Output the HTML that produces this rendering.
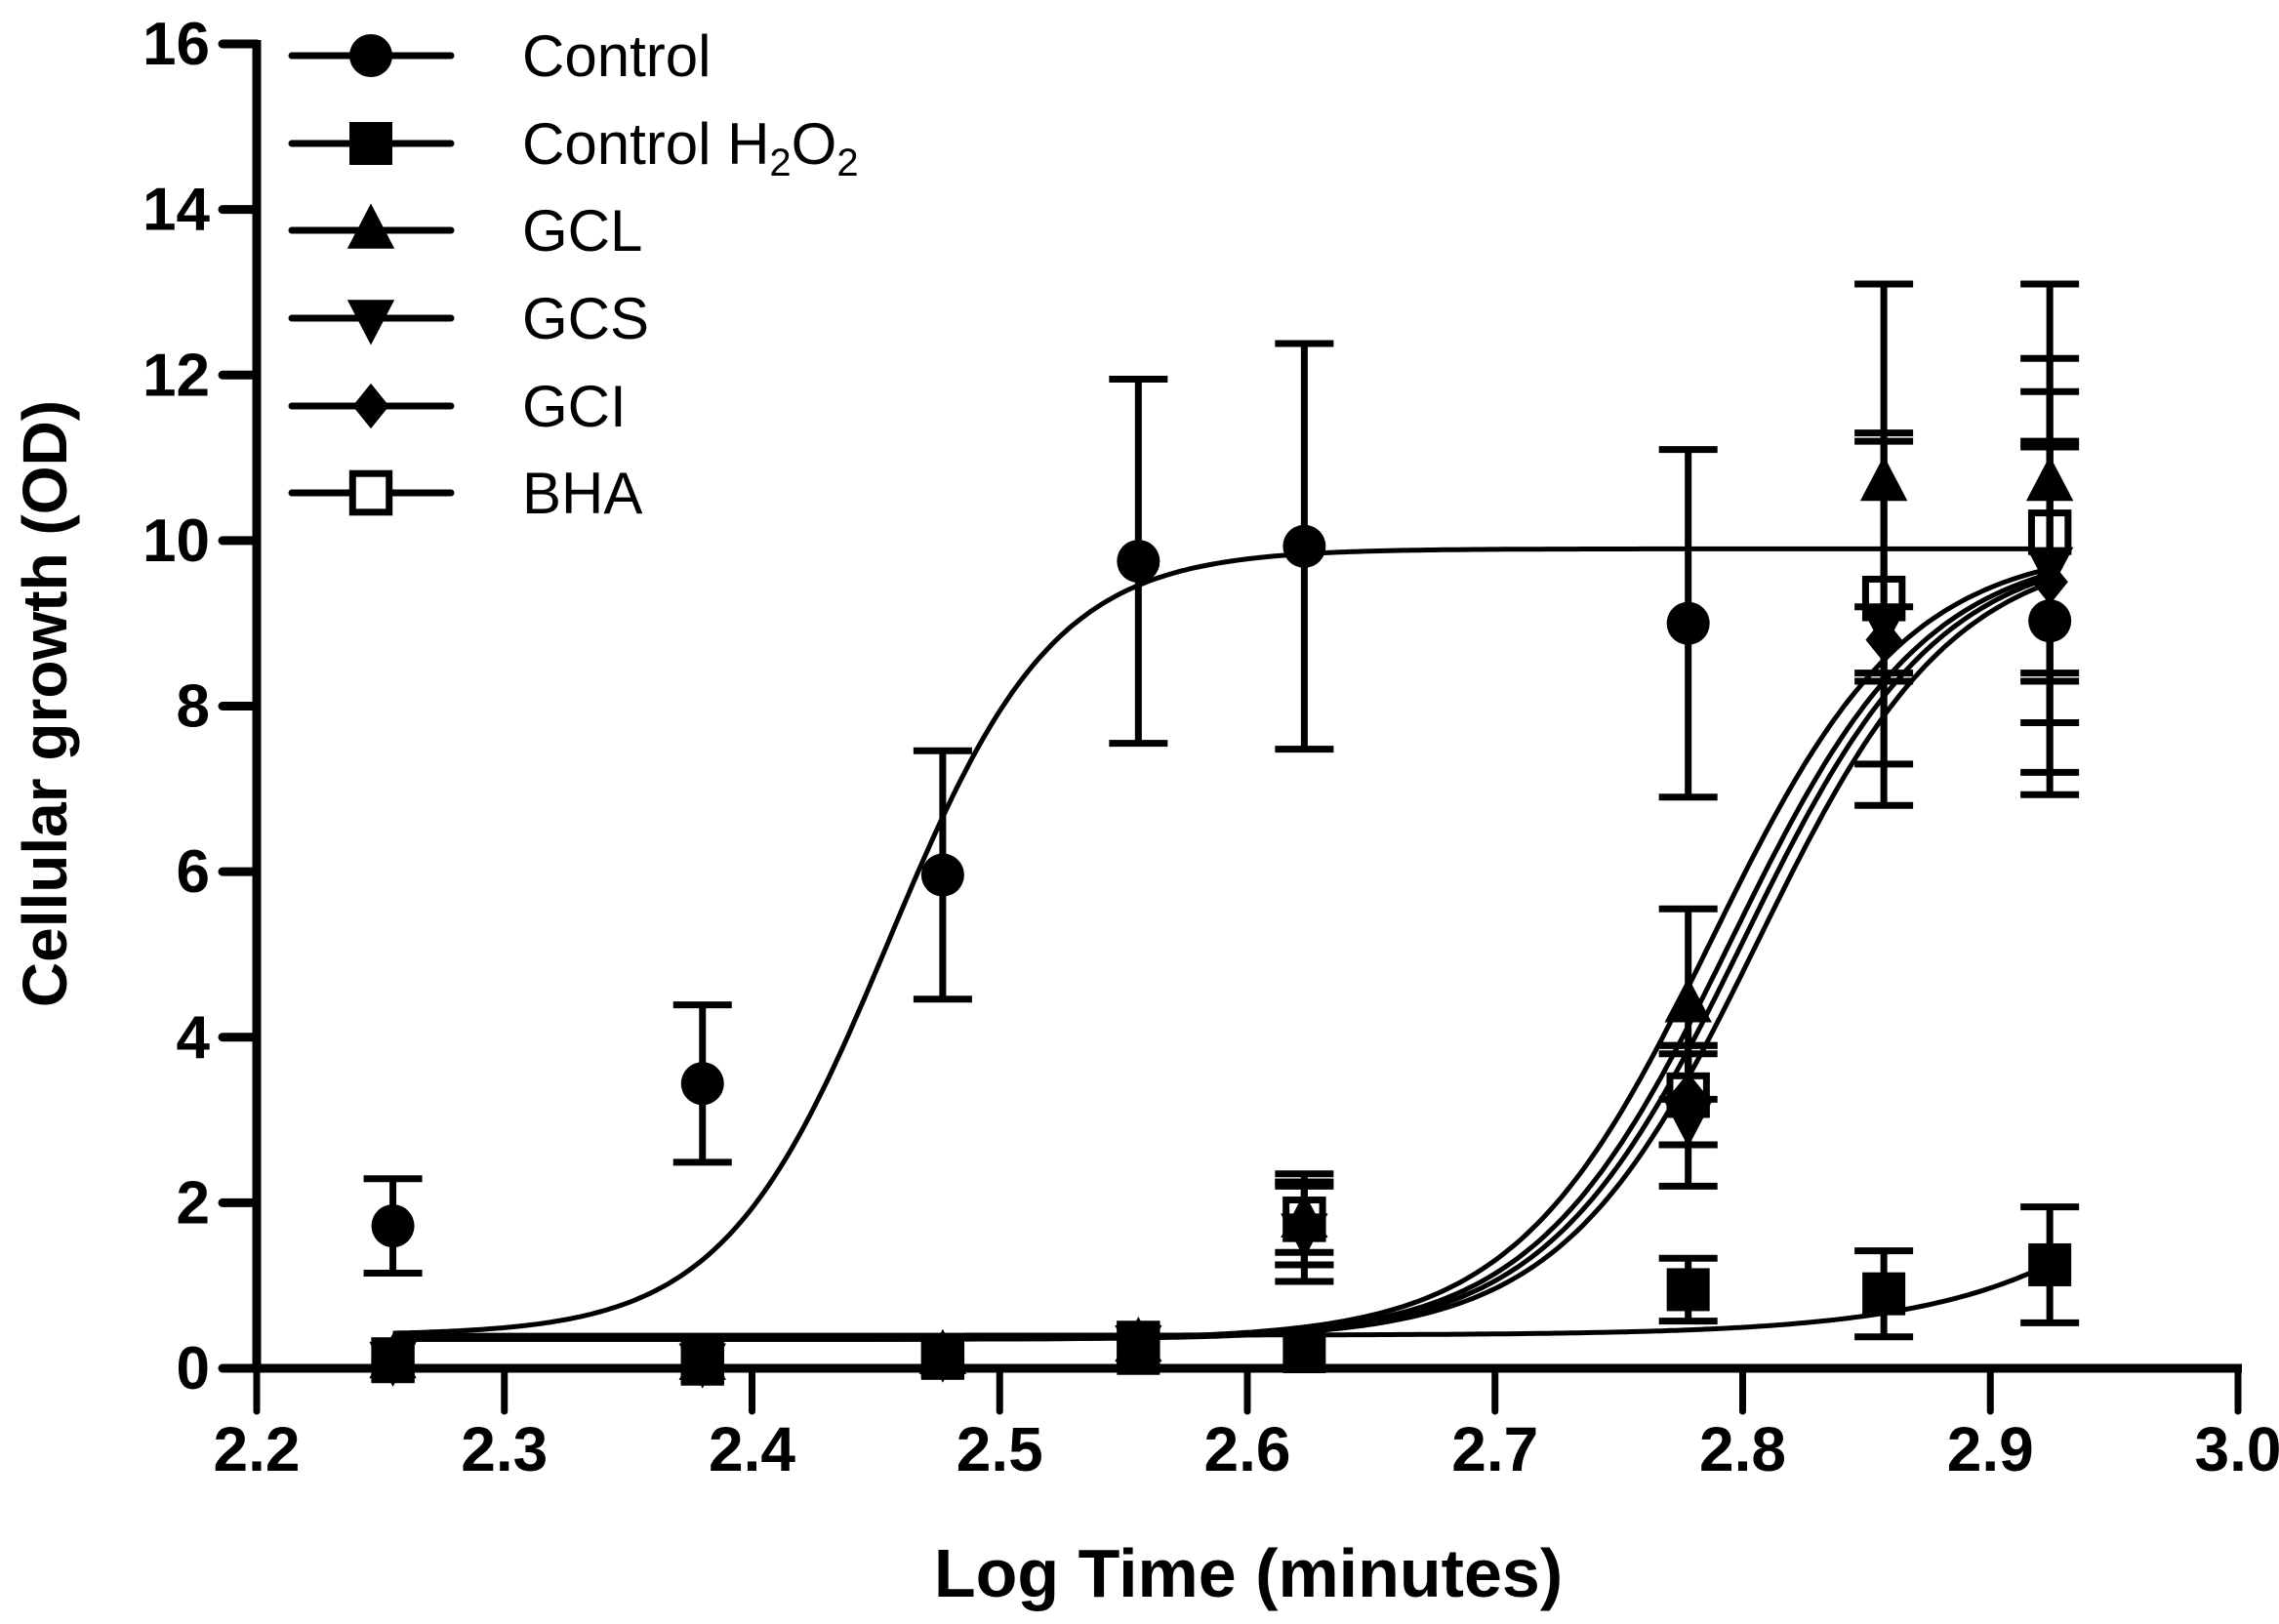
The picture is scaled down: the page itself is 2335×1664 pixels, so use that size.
<!DOCTYPE html>
<html><head><meta charset="utf-8"><style>
html,body{margin:0;padding:0;background:#fff}
svg{display:block}
text{font-family:"Liberation Sans",Arial,sans-serif;fill:#000}
.nar{font-family:"Liberation Sans Narrow","Liberation Sans",Arial,sans-serif}
</style></head><body>
<svg id="chart" width="2335" height="1664" viewBox="0 0 2335 1664" xmlns="http://www.w3.org/2000/svg">
<g id="axes"></g>
<g id="fits"></g>
<g id="marks"></g>
<g id="legend"></g>
<text class="nar" x="1279" y="1636" font-size="70" font-weight="bold" text-anchor="middle">Log Time (minutes)</text>
<text transform="translate(68,721) rotate(-90)" font-size="64" font-weight="bold" text-anchor="middle">Cellular growth (OD)</text>
</svg>
<script>
const xTicks=[2.2,2.3,2.4,2.5,2.6,2.7,2.8,2.9,3.0];
const xTickLabels=["2.2","2.3","2.4","2.5","2.6","2.7","2.8","2.9","3.0"];
const yTicks=[0,2,4,6,8,10,12,14,16];
const yTickLabels=["0","2","4","6","8","10","12","14","16"];
const xVals=[2.255,2.380,2.477,2.556,2.623,2.778,2.857,2.924];
const seriesNames=["Control","Control H2O2","GCL","GCS","GCI","BHA"];
const controlY=[1.72,3.44,5.96,9.75,9.93,9.0,null,9.03];
const controlErr=[0.57,0.95,1.5,2.2,2.45,2.1,null,2.1];
const h2o2Y=[0.08,0.05,0.12,0.18,0.2,0.95,0.9,1.25];
const h2o2Err=[0,0,0,0,0,0.38,0.52,0.7];
const gclY=[0.1,0.08,0.15,0.3,1.8,4.4,10.7,10.7];
const gclErr=[0,0,0,0,0.55,1.15,2.4,2.4];
const gcsY=[0.1,0.08,0.15,0.3,1.65,3.0,9.0,9.7];
const gcsErr=[0,0,0,0,0.6,0.8,2.2,2.5];
const gciY=[0.1,0.08,0.15,0.3,1.75,3.3,8.8,9.5];
const gciErr=[0,0,0,0,0.5,0.6,0.4,1.7];
const bhaY=[0.1,0.08,0.15,0.3,1.8,3.3,9.3,10.1];
const bhaErr=[0,0,0,0,0.4,0.6,2.0,1.7];
// fit params: bottom, top, logEC50, hill
const controlFit=[0.4,9.9,2.455,13];
const h2o2Fit=[0.4,10,3.05,8];
const gclFit=[0.35,9.95,2.787,11];
const gcsFit=[0.35,9.95,2.800,11];
const gciFit=[0.35,9.95,2.806,11];
const bhaFit=[0.35,9.95,2.795,11];

const X0=263,X1=2293,Y0=1402,Y1=45;
const sx=v=>X0+(v-2.2)/(0.8)*(X1-X0);
const sy=v=>Y0-(v/16)*(Y0-Y1);
const NS="http://www.w3.org/2000/svg";
function mk(tag,parent,attrs){const e=document.createElementNS(NS,tag);for(const k in attrs)e.setAttribute(k,attrs[k]);parent.appendChild(e);return e;}
const axes=document.getElementById('axes');
let e=mk('line',axes,{x1:X0,y1:Y1-4,x2:X0,y2:Y0+4,stroke:'#000','stroke-width':9});


e=mk('line',axes,{x1:X0-35,y1:Y0,x2:X1+4,y2:Y0,stroke:'#000','stroke-width':9});


xTicks.forEach((t,i)=>{
  const l=mk('line',axes,{x1:sx(t),y1:Y0,x2:sx(t),y2:Y0+44,stroke:'#000','stroke-width':7,'stroke-linecap':'round'});
  
  
  const tx=mk('text',axes,{x:sx(t),y:Y0+105,'font-size':64,'font-weight':'bold','text-anchor':'middle','class':'nar'});
  tx.textContent=xTickLabels[i];
  
  
});
yTicks.forEach((t,i)=>{
  const l=mk('line',axes,{x1:X0-35,y1:sy(t),x2:X0,y2:sy(t),stroke:'#000','stroke-width':9,'stroke-linecap':'round'});
  
  
  const tx=mk('text',axes,{x:X0-48,y:sy(t)+21,'font-size':62,'font-weight':'bold','text-anchor':'end'});
  tx.textContent=yTickLabels[i];
  
  
});
function logistic(p,x){return p[0]+(p[1]-p[0])/(1+Math.pow(10,(p[2]-x)*p[3]));}
const fits=document.getElementById('fits');
const fitList=[controlFit,h2o2Fit,gclFit,gcsFit,gciFit,bhaFit];
fitList.forEach((p,i)=>{
  let d='';
  for(let x=2.255;x<=2.9241;x+=0.002){d+=(d?'L':'M')+sx(x).toFixed(1)+','+sy(logistic(p,x)).toFixed(1);}
  const path=mk('path',fits,{d:d,fill:'none',stroke:'#000','stroke-width':5});
  
  
});
function marker(g,type,cx,cy,s){
  if(type==='circle')return mk('circle',g,{cx:cx,cy:cy,r:s,fill:'#000'});
  if(type==='square')return mk('rect',g,{x:cx-s,y:cy-s,width:2*s,height:2*s,fill:'#000'});
  if(type==='up')return mk('polygon',g,{points:`${cx},${cy-s*1.25} ${cx-s*1.1},${cy+s*0.85} ${cx+s*1.1},${cy+s*0.85}`,fill:'#000'});
  if(type==='down')return mk('polygon',g,{points:`${cx},${cy+s*1.25} ${cx-s*1.1},${cy-s*0.85} ${cx+s*1.1},${cy-s*0.85}`,fill:'#000'});
  if(type==='diamond')return mk('polygon',g,{points:`${cx},${cy-s*1.05} ${cx+s*0.85},${cy} ${cx},${cy+s*1.05} ${cx-s*0.85},${cy}`,fill:'#000'});
  if(type==='open')return mk('rect',g,{x:cx-s*0.85,y:cy-s*0.9,width:1.7*s,height:1.8*s,fill:'#fff',stroke:'#000','stroke-width':7});
}
const marks=document.getElementById('marks');
const series=[[controlY,controlErr,'circle'],[h2o2Y,h2o2Err,'square'],[gclY,gclErr,'up'],[gcsY,gcsErr,'down'],[gciY,gciErr,'diamond'],[bhaY,bhaErr,'open']];
const drawOrder=[5,0,2,3,4,1];
drawOrder.forEach(si=>{
  const s=series[si];
  const g=mk('g',marks,{});
  
  
  s[0].forEach((v,i)=>{
    if(v===null)return;
    const cx=sx(xVals[i]),err=s[1][i];
    if(err>0){
      const eb=mk('path',g,{d:`M${cx},${sy(v+err)}V${sy(v-err)}M${cx-30},${sy(v+err)}h60M${cx-30},${sy(v-err)}h60`,stroke:'#000','stroke-width':7,fill:'none'});
      
      
    }
    const m=marker(g,s[2],cx,sy(v),22);
    
    
  });
});
const legend=document.getElementById('legend');
const legY=[57,147,236,326,416,505];
series.forEach((s,i)=>{
  const g=mk('g',legend,{});
  
  
  mk('line',g,{x1:299,y1:legY[i],x2:462,y2:legY[i],stroke:'#000','stroke-width':7,'stroke-linecap':'round'});
  marker(g,s[2],380,legY[i],22);
  const t=mk('text',g,{x:535,y:legY[i]+21,'font-size':60});
  if(i===1){t.innerHTML='Control H<tspan font-size="40" dy="12">2</tspan><tspan dy="-12">O</tspan><tspan font-size="40" dy="12">2</tspan>';}
  else t.textContent=seriesNames[i];
});
</script>
</body></html>
